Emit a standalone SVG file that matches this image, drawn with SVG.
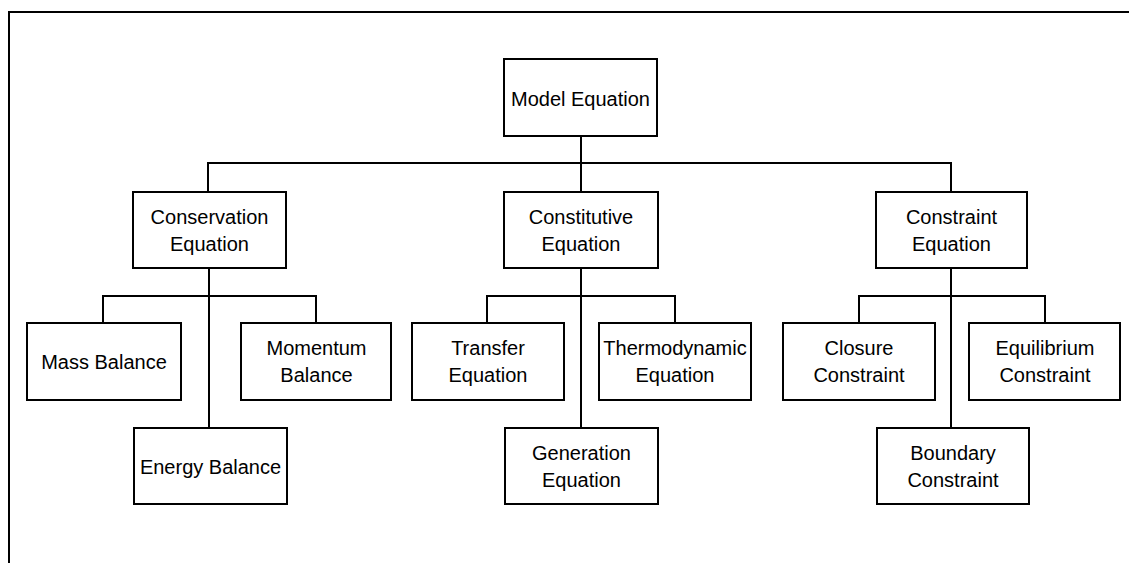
<svg xmlns="http://www.w3.org/2000/svg" width="1129" height="563" viewBox="0 0 1129 563">
<style>
.box{fill:#fff;stroke:#000;stroke-width:2}
.ln{fill:none;stroke:#000;stroke-width:2}
text{font-family:"Liberation Sans",Arial,sans-serif;font-size:20px;fill:#000;text-anchor:middle}
</style>
<rect width="1129" height="563" fill="#fff"/>
<path class="ln" d="M9,563 V12 H1129"/>
<g id="connectors">
<path class="ln" d="M581,136 V192 M208,192 V163 H951 V192"/>
<path class="ln" d="M209,268 V428 M103,323 V296 H316 V323"/>
<path class="ln" d="M581,268 V428 M487,323 V296 H675 V323"/>
<path class="ln" d="M951,268 V428 M859,323 V296 H1045 V323"/>
</g>
<g id="model"><rect class="box" x="504" y="59" width="153" height="77"/><text x="580.5" y="105.5">Model Equation</text></g>
<g id="conservation"><rect class="box" x="133" y="192" width="153" height="76"/><text x="209.5" y="224">Conservation</text><text x="209.5" y="251">Equation</text></g>
<g id="constitutive"><rect class="box" x="504" y="192" width="154" height="76"/><text x="581" y="224">Constitutive</text><text x="581" y="251">Equation</text></g>
<g id="constraint"><rect class="box" x="876" y="192" width="151" height="76"/><text x="951.5" y="224">Constraint</text><text x="951.5" y="251">Equation</text></g>
<g id="mass"><rect class="box" x="27" y="323" width="154" height="77"/><text x="104" y="368.5">Mass Balance</text></g>
<g id="momentum"><rect class="box" x="241" y="323" width="150" height="77"/><text x="316.5" y="355">Momentum</text><text x="316.5" y="382">Balance</text></g>
<g id="energy"><rect class="box" x="134" y="428" width="153" height="76"/><text x="210.5" y="473.5">Energy Balance</text></g>
<g id="transfer"><rect class="box" x="412" y="323" width="152" height="77"/><text x="488" y="355">Transfer</text><text x="488" y="382">Equation</text></g>
<g id="thermodynamic"><rect class="box" x="599" y="323" width="152" height="77"/><text x="675" y="355">Thermodynamic</text><text x="675" y="382">Equation</text></g>
<g id="generation"><rect class="box" x="505" y="428" width="153" height="76"/><text x="581.5" y="460">Generation</text><text x="581.5" y="486.5">Equation</text></g>
<g id="closure"><rect class="box" x="783" y="323" width="152" height="77"/><text x="859" y="355">Closure</text><text x="859" y="382">Constraint</text></g>
<g id="equilibrium"><rect class="box" x="969" y="323" width="151" height="77"/><text x="1045" y="355">Equilibrium</text><text x="1045" y="382">Constraint</text></g>
<g id="boundary"><rect class="box" x="877" y="428" width="152" height="76"/><text x="953" y="460">Boundary</text><text x="953" y="486.5">Constraint</text></g>
</svg>
